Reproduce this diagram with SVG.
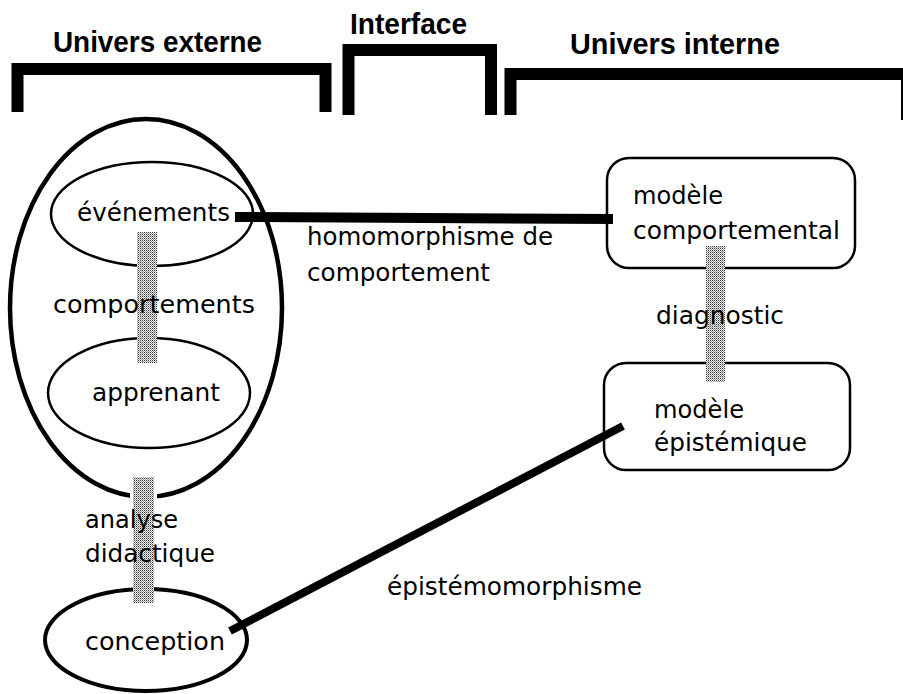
<svg xmlns="http://www.w3.org/2000/svg" width="903" height="694" viewBox="0 0 903 694">
<style>
.hdr{font-family:"Liberation Sans",Arial,sans-serif;font-weight:bold;font-size:30px;fill:#000}
.t{font-family:"DejaVu Sans",Verdana,sans-serif;font-size:25px;fill:#000}
.brk{fill:none;stroke:#000;stroke-width:12;stroke-linejoin:miter;stroke-linecap:butt}
.thin{fill:none;stroke:#000;stroke-width:2.5}
.thick{fill:none;stroke:#000;stroke-width:4.5}
.link{stroke:#000;stroke-linecap:butt}
.bar{fill:url(#stip)}
</style>
<defs>
<pattern id="stip" x="0" y="0" width="2" height="2" patternUnits="userSpaceOnUse">
<rect width="2" height="2" fill="#eeeeee"/>
<rect x="0" y="0" width="1" height="1" fill="#3a3a3a"/>
<rect x="1" y="1" width="1" height="1" fill="#9a9a9a"/>
</pattern>
</defs>
<rect width="903" height="694" fill="#fff"/>

<g id="univers-externe">
<path class="brk" d="M17.5,112 V69 H325.5 V112"/>
<text class="hdr" x="53" y="52" textLength="209" lengthAdjust="spacingAndGlyphs">Univers externe</text>
</g>
<g id="interface">
<path class="brk" d="M348.5,115 V50 H491 V115"/>
<text class="hdr" x="350" y="34" textLength="117" lengthAdjust="spacingAndGlyphs">Interface</text>
</g>
<g id="univers-interne">
<path class="brk" d="M510.5,115 V74 H907 V120"/>
<text class="hdr" x="570" y="54" textLength="210" lengthAdjust="spacingAndGlyphs">Univers interne</text>
</g>

<g id="apprenant-global">
<ellipse class="thick" cx="146" cy="308" rx="136" ry="189"/>
</g>
<g id="evenements">
<ellipse class="thin" cx="152" cy="214" rx="101" ry="52"/>
<text class="t" x="77" y="221" textLength="153" lengthAdjust="spacingAndGlyphs">événements</text>
</g>
<g id="apprenant">
<ellipse class="thin" cx="149" cy="393" rx="101" ry="55"/>
<text class="t" x="92" y="401" textLength="128" lengthAdjust="spacingAndGlyphs">apprenant</text>
</g>
<g id="conception">
<ellipse fill="none" stroke="#000" stroke-width="4" cx="146" cy="640" rx="101" ry="51"/>
<text class="t" x="85" y="650" textLength="140" lengthAdjust="spacingAndGlyphs">conception</text>
</g>
<g id="modele-comportemental">
<rect class="thin" x="607" y="158" width="248" height="110" rx="22"/>
<text class="t" x="633" y="204" textLength="90" lengthAdjust="spacingAndGlyphs">modèle</text>
<text class="t" x="633" y="239" textLength="207" lengthAdjust="spacingAndGlyphs">comportemental</text>
</g>
<g id="modele-epistemique">
<rect class="thin" x="604" y="363" width="246" height="107" rx="22"/>
<text class="t" x="654" y="418" textLength="90" lengthAdjust="spacingAndGlyphs">modèle</text>
<text class="t" x="654" y="451" textLength="153" lengthAdjust="spacingAndGlyphs">épistémique</text>
</g>

<g id="connectors">
<g id="bar-comportements">
<rect x="137" y="232" width="20" height="131" fill="#fff"/>
<rect class="bar" x="137" y="232" width="20" height="131"/>
</g>
<g id="bar-analyse">
<rect x="130" y="477" width="27" height="24" fill="#fff"/>
<rect x="133" y="477" width="21" height="126" fill="#fff"/>
<rect class="bar" x="133" y="477" width="21" height="126"/>
</g>
<g id="bar-diagnostic">
<rect x="706" y="246" width="19" height="136" fill="#fff"/>
<rect class="bar" x="706" y="246" width="19" height="136"/>
</g>
<line id="homomorphisme" class="link" x1="235" y1="217" x2="613" y2="219" stroke-width="10"/>
<line id="epistemomorphisme" class="link" x1="230" y1="631" x2="623" y2="426" stroke-width="8"/>
</g>

<g id="labels">
<text class="t" x="53" y="313" textLength="202" lengthAdjust="spacingAndGlyphs">comportements</text>
<text class="t" x="85" y="528" textLength="93" lengthAdjust="spacingAndGlyphs">analyse</text>
<text class="t" x="85" y="562" textLength="130" lengthAdjust="spacingAndGlyphs">didactique</text>
<text class="t" x="656" y="324" textLength="128" lengthAdjust="spacingAndGlyphs">diagnostic</text>
<text class="t" x="307" y="245" textLength="246" lengthAdjust="spacingAndGlyphs">homomorphisme de</text>
<text class="t" x="307" y="281" textLength="183" lengthAdjust="spacingAndGlyphs">comportement</text>
<text class="t" x="387" y="595" textLength="255" lengthAdjust="spacingAndGlyphs">épistémomorphisme</text>
</g>
</svg>
